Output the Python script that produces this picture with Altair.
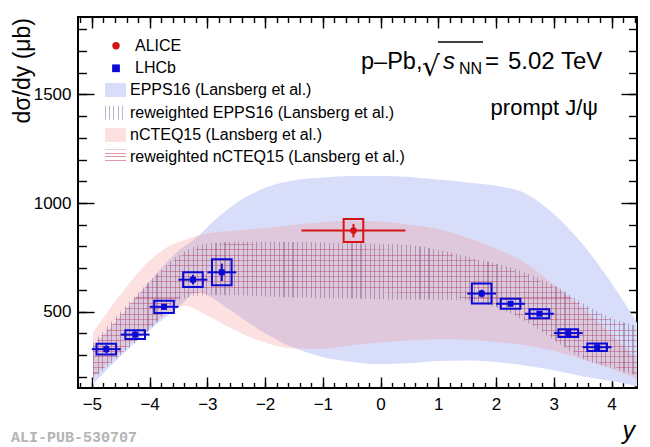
import altair as alt
import pandas as pd

# EPPS16 band (Lansberg et al.), rapidity vs dsigma/dy [mub]
epps_x = [-4.98, -4.5, -4.0, -3.5, -3.15, -3.0, -2.5, -2.0, -1.5, -1.0, -0.5, 0.0, 0.5, 1.0, 1.5, 2.0, 2.5, 3.0, 3.5, 4.0, 4.44]
epps_lo = [165, 295, 415, 520, 594, 575, 488, 400, 333, 290, 268, 258, 262, 272, 275, 268, 252, 230, 202, 180, 155]
epps_hi = [340, 480, 640, 780, 850, 890, 1000, 1070, 1105, 1118, 1124, 1124, 1120, 1108, 1095, 1080, 1045, 950, 810, 630, 449]

# nCTEQ15 band (Lansberg et al.)
ncteq_x = [-4.98, -4.5, -4.0, -3.6, -3.4, -3.0, -2.5, -2.0, -1.5, -1.0, -0.5, 0.0, 0.5, 1.0, 1.5, 2.0, 2.5, 3.0, 3.5, 4.0, 4.44]
ncteq_lo = [200, 315, 430, 505, 527, 482, 410, 358, 330, 328, 345, 358, 368, 372, 370, 360, 345, 318, 280, 235, 188]
ncteq_hi = [403, 580, 735, 810, 830, 860, 873, 885, 900, 912, 918, 915, 900, 880, 840, 790, 725, 625, 515, 395, 281]

# reweighted bands
rw_x = [-4.98, -4.5, -4.0, -3.5, -3.0, -2.5, -2.0, -1.5, -1.0, -0.5, 0.0, 0.5, 1.0, 1.5, 2.0, 2.5, 3.0, 3.5, 4.0, 4.44]
rw_epps_lo = [186, 300, 415, 550, 575, 575, 570, 565, 562, 560, 557, 556, 555, 550, 520, 455, 370, 282, 240, 204]
rw_epps_hi = [355, 500, 640, 760, 815, 822, 822, 820, 818, 815, 812, 805, 785, 753, 722, 680, 622, 540, 470, 433]
rw_ncteq_lo = [195, 305, 420, 560, 590, 597, 600, 600, 600, 596, 590, 585, 575, 560, 528, 462, 378, 292, 248, 212]
rw_ncteq_hi = [345, 490, 630, 750, 800, 812, 806, 800, 795, 790, 786, 780, 770, 745, 712, 668, 610, 530, 462, 425]

# LHCb prompt J/psi
lhcb_y = [-4.75, -4.25, -3.75, -3.25, -2.75, 1.75, 2.25, 2.75, 3.25, 3.75]
lhcb_val = [327, 394, 522, 647, 681, 583, 536, 490, 401, 336]
lhcb_stat = [18, 14, 14, 22, 40, 18, 10, 8, 7, 7]
lhcb_syst = [25, 20, 28, 34, 60, 46, 23, 21, 18, 17]
lhcb_halfbin = 0.25

# ALICE
alice_lo = [-1.37]
alice_hi = [0.43]
alice_y = [-0.47]
alice_val = [873]
alice_stat = [31]
alice_syst = [53]

legend_labels = ["ALICE", "LHCb", "EPPS16 (Lansberg et al.)",
                 "reweighted EPPS16 (Lansberg et al.)",
                 "nCTEQ15 (Lansberg et al.)",
                 "reweighted nCTEQ15 (Lansberg et al.)"]

x_major = [-5, -4, -3, -2, -1, 0, 1, 2, 3, 4]
x_minor = [round(k * 0.2, 1) for k in range(-26, 23)]
y_major = [500, 1000, 1500]
y_minor = list(range(200, 1900, 100))

BLUE = "#0a0ad2"
RED = "#d41414"
FONT = "Liberation Sans"
BOXW = 0.17

X = alt.Scale(domain=[-5.24, 4.44], nice=False, zero=False)
Y = alt.Scale(domain=[148, 1857], nice=False, zero=False)


def stripes(color, n, width, vertical):
    stops = []
    for i in range(n):
        a = i / n
        b = (i + width) / n
        stops += [alt.GradientStop(color="rgba(0,0,0,0)", offset=a),
                  alt.GradientStop(color=color, offset=a),
                  alt.GradientStop(color=color, offset=b),
                  alt.GradientStop(color="rgba(0,0,0,0)", offset=b)]
    if vertical:
        return alt.LinearGradient(gradient="linear", stops=stops, x1=0, x2=1, y1=0, y2=0)
    return alt.LinearGradient(gradient="linear", stops=stops, x1=0, x2=0, y1=0, y2=1)


def band(xs, lo, hi, **mark):
    df = pd.DataFrame({"x": xs, "lo": lo, "hi": hi})
    return alt.Chart(df).mark_area(interpolate="monotone", clip=True, **mark).encode(
        x=alt.X("x:Q", scale=X, axis=None),
        y=alt.Y("lo:Q", scale=Y, axis=None),
        y2="hi:Q")


VLINE = "rgba(100,75,125,0.42)"
HLINE = "rgba(185,55,90,0.42)"

layers = [
    band(epps_x, epps_lo, epps_hi, fill="#d8defa"),
    band(ncteq_x, ncteq_lo, ncteq_hi, fill="#f88d8d", fillOpacity=0.27),
    band(rw_x, rw_epps_lo, rw_epps_hi, fill=stripes(VLINE, 120, 0.25, True)),
    band(rw_x, rw_ncteq_lo, rw_ncteq_hi, fill=stripes(HLINE, 25, 0.2, False)),
]


def points(ys, vals, stat, syst, lo, hi, color, shape, size):
    df = pd.DataFrame({"y": ys, "val": vals, "lo": lo, "hi": hi})
    df["bl"] = df["y"] - BOXW
    df["br"] = df["y"] + BOXW
    df["s_lo"] = df["val"] - pd.Series(syst)
    df["s_hi"] = df["val"] + pd.Series(syst)
    df["e_lo"] = df["val"] - pd.Series(stat)
    df["e_hi"] = df["val"] + pd.Series(stat)
    base = alt.Chart(df)
    box = base.mark_rect(fillOpacity=0, stroke=color, strokeWidth=2).encode(
        x=alt.X("bl:Q", scale=X, axis=None), x2="br:Q",
        y=alt.Y("s_lo:Q", scale=Y, axis=None), y2="s_hi:Q")
    xbar = base.mark_rule(color=color, strokeWidth=2).encode(
        x=alt.X("lo:Q", scale=X, axis=None), x2="hi:Q",
        y=alt.Y("val:Q", scale=Y, axis=None))
    ybar = base.mark_rule(color=color, strokeWidth=2).encode(
        x=alt.X("y:Q", scale=X, axis=None),
        y=alt.Y("e_lo:Q", scale=Y, axis=None), y2="e_hi:Q")
    mk = base.mark_point(shape=shape, filled=True, size=size, color=color, opacity=1).encode(
        x=alt.X("y:Q", scale=X, axis=None),
        y=alt.Y("val:Q", scale=Y, axis=None))
    return [box, xbar, ybar, mk]


layers += points(lhcb_y, lhcb_val, lhcb_stat, lhcb_syst,
                 [v - lhcb_halfbin for v in lhcb_y], [v + lhcb_halfbin for v in lhcb_y],
                 BLUE, "square", 36)
layers += points(alice_y, alice_val, alice_stat, alice_syst, alice_lo, alice_hi,
                 RED, "circle", 45)

one = pd.DataFrame({"a": [0]})


def text(s, x, y, size=16, font=FONT, **kw):
    return alt.Chart(pd.DataFrame({"t": [s]})).mark_text(
        font=font, fontSize=size, color="black", **kw).encode(
        text="t:N", x=alt.value(x), y=alt.value(y))


# legend
legend_y = [28.7, 51.3, 73, 95.7, 118, 139.5]
layers.append(alt.Chart(one).mark_point(shape="circle", filled=True, size=55, color=RED, opacity=1).encode(
    x=alt.value(38), y=alt.value(legend_y[0])))
layers.append(alt.Chart(one).mark_point(shape="square", filled=True, size=60, color=BLUE, opacity=1).encode(
    x=alt.value(38), y=alt.value(legend_y[1])))
swatch_fill = [{"fill": "#d8defa"},
               {"fill": stripes("rgba(120,125,160,0.55)", 5, 0.22, True)},
               {"fill": "#f88d8d", "fillOpacity": 0.27},
               {"fill": stripes("rgba(200,70,90,0.55)", 4, 0.25, False)}]
for k, f in enumerate(swatch_fill):
    yc = legend_y[k + 2]
    layers.append(alt.Chart(one).mark_rect(**f).encode(
        x=alt.value(27), x2=alt.value(48), y=alt.value(yc - 7), y2=alt.value(yc + 7)))
for k, lab in enumerate(legend_labels):
    layers.append(text(lab, 57 if k < 2 else 52, legend_y[k], 16, align="left", baseline="middle"))

# header text
layers.append(text("p\u2013Pb,", 283, 44.7, 23.5, align="left"))
layers.append(text("\u221a", 344, 51, 28, font="DejaVu Sans", align="left"))
layers.append(text("s", 365, 44.7, 24, align="left", fontStyle="italic"))
layers.append(text("NN", 381, 51.5, 16, align="left"))
layers.append(text("=", 407, 44.7, 24, align="left"))
layers.append(text("5.02 TeV", 430, 44.7, 24, align="left"))
layers.append(alt.Chart(one).mark_rule(color="black", strokeWidth=1.3).encode(
    x=alt.value(360), x2=alt.value(405), y=alt.value(25)))
layers.append(text("prompt J/\u03c8", 520, 91.3, 22, align="right"))

# axis titles and tag
layers.append(text("d\u03c3/dy (\u03bcb)", -55, 1, 23, angle=270, align="right", baseline="middle"))
layers.append(text("y", 557, 414, 25, align="right", fontStyle="italic"))
layers.append(alt.Chart(pd.DataFrame({"t": ["ALI-PUB-530707"]})).mark_text(
    font="Liberation Mono", fontWeight="bold", fontSize=15, color="#b4b4b4", align="left").encode(
    text="t:N", x=alt.value(-67), y=alt.value(420)))

# axes: labels, then inward ticks
lab_x = alt.Axis(orient="bottom", values=x_major, ticks=False, tickSize=0, domain=False, grid=False,
                 labelFont=FONT, labelFontSize=17, labelColor="black", labelPadding=8,
                 format="d", title=None)
lab_y = alt.Axis(orient="left", values=y_major, ticks=False, tickSize=0, domain=False, grid=False,
                 labelFont=FONT, labelFontSize=17, labelColor="black", labelPadding=7,
                 format="d", title=None)
layers.append(alt.Chart(pd.DataFrame({"v": [0]})).mark_point(opacity=0).encode(
    x=alt.X("v:Q", scale=X, axis=lab_x)))
layers.append(alt.Chart(pd.DataFrame({"v": [500]})).mark_point(opacity=0).encode(
    y=alt.Y("v:Q", scale=Y, axis=lab_y)))


def tick_axis(channel, orient, values, size):
    ax = alt.Axis(orient=orient, values=values, offset=-size, tickSize=size, tickWidth=1.4,
                  tickColor="black", labels=False, domain=False, grid=False, title=None)
    if channel == "x":
        return alt.Chart(pd.DataFrame({"v": [0]})).mark_point(opacity=0).encode(
            x=alt.X("v:Q", scale=X, axis=ax))
    return alt.Chart(pd.DataFrame({"v": [500]})).mark_point(opacity=0).encode(
        y=alt.Y("v:Q", scale=Y, axis=ax))


for orient in ["bottom", "top"]:
    layers.append(tick_axis("x", orient, x_major, 11))
    layers.append(tick_axis("x", orient, x_minor, 5.5))
for orient in ["left", "right"]:
    layers.append(tick_axis("y", orient, y_major, 16))
    layers.append(tick_axis("y", orient, y_minor, 8.5))

chart = alt.layer(*layers).resolve_axis(
    x="independent", y="independent"
).properties(
    width=559, height=371,
    padding={"left": 70, "top": 9, "right": 5, "bottom": 58},
    autosize=alt.AutoSizeParams(type="none")
).configure_view(
    stroke="black", strokeWidth=2
)

chart.save("out.html", embed_options={"renderer": "svg", "actions": False})
